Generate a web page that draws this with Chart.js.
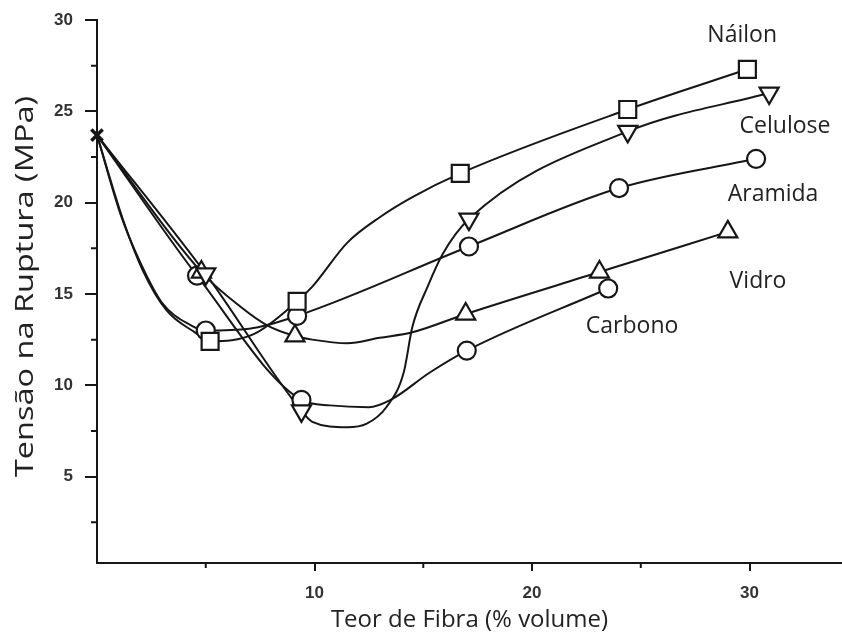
<!DOCTYPE html>
<html lang="pt">
<head>
<meta charset="utf-8">
<title>Tensão na Ruptura x Teor de Fibra</title>
<script src="https://cdn.jsdelivr.net/npm/chart.js@4.4.1/dist/chart.umd.min.js"></script>
<style>
    html, body { margin: 0; padding: 0; background: #fff; }
    #wrap { width: 842px; height: 639px; }
</style>
</head>
<body>
<div id="wrap"><canvas id="fibraChart" width="842" height="639"></canvas></div>
<script>
// matriz sem fibra (ponto de partida de todas as curvas)
const matrizX = [0];
const matrizY = [23.7];

// pontos medidos de cada fibra
const nailonX = [5.2, 9.2, 16.7, 24.4, 29.9];
const nailonY = [12.4, 14.6, 21.6, 25.1, 27.3];
const celuloseX = [5.0, 9.4, 17.1, 24.4, 30.9];
const celuloseY = [16.1, 8.6, 19.1, 23.9, 26.0];
const aramidaX = [5.0, 9.2, 17.1, 24.0, 30.3];
const aramidaY = [13.0, 13.8, 17.6, 20.8, 22.4];
const vidroX = [4.8, 9.1, 16.95, 23.1, 29.0];
const vidroY = [16.2, 12.7, 13.9, 16.2, 18.4];
const carbonoX = [4.6, 9.4, 17.0, 23.5];
const carbonoY = [16.0, 9.2, 11.9, 15.3];

// traçado das curvas ajustadas (passam pelos pontos medidos)
const nailonCurvaX = [0, 1.2, 2.1, 3.2, 4.5, 5.2, 7.2, 9.2, 9.9, 11.5, 13.0, 14.5, 16.7, 24.4, 29.9];
const nailonCurvaY = [23.7, 19.05, 16.3, 14.1, 12.9, 12.4, 12.8, 14.6, 15.4, 17.8, 19.2, 20.3, 21.6, 25.1, 27.3];
const celuloseCurvaX = [0, 5.0, 9.4, 9.9, 11.5, 12.4, 13.3, 14.1, 14.5, 15.2, 15.9, 17.1, 24.4, 30.9];
const celuloseCurvaY = [23.7, 16.1, 8.6, 8.0, 7.7, 7.9, 8.8, 10.7, 13.2, 15.4, 17.2, 19.1, 23.9, 26.0];
const aramidaCurvaX = [0, 1.1, 2.0, 3.0, 4.3, 5.0, 7.0, 9.2, 17.1, 24.0, 30.3];
const aramidaCurvaY = [23.7, 19.3, 16.7, 14.5, 13.3, 13.0, 13.1, 13.8, 17.6, 20.8, 22.4];
const vidroCurvaX = [0, 4.8, 6.6, 7.8, 9.1, 9.9, 11.5, 13.0, 14.5, 16.95, 23.1, 29.0];
const vidroCurvaY = [23.7, 16.2, 14.3, 13.3, 12.7, 12.5, 12.3, 12.6, 12.9, 13.9, 16.2, 18.4];
const carbonoCurvaX = [0, 4.6, 9.4, 10.7, 12.5, 13.5, 15.3, 17.0, 23.5];
const carbonoCurvaY = [23.7, 16.0, 9.2, 8.9, 8.8, 9.2, 10.7, 11.9, 15.3];

// eixos
const xMajorTicks = [10, 20, 30];
const xMinorTicks = [5, 15, 25];
const yMajorTicks = [5, 10, 15, 20, 25, 30];
const yMinorTicks = [2.5, 7.5, 12.5, 17.5, 22.5, 27.5];

// nomes das fibras junto das curvas
const curveLabels = [
    { text: 'Náilon', x: 29.66, y: 28.79 },
    { text: 'Celulose', x: 31.63, y: 23.81 },
    { text: 'Aramida', x: 31.08, y: 20.09 },
    { text: 'Vidro', x: 30.39, y: 15.32 },
    { text: 'Carbono', x: 24.6, y: 12.86 }
];

const INK = '#161616';

function toPoints(xs, ys) {
    return xs.map((x, i) => ({ x: x, y: ys[i] }));
}

function curveDataset(xs, ys) {
    return {
        data: toPoints(xs, ys),
        showLine: true,
        borderColor: INK,
        borderWidth: 2,
        pointRadius: 0,
        cubicInterpolationMode: 'monotone',
        fill: false,
        clip: false,
        order: 2
    };
}

function markerDataset(xs, ys, style, radius, rotation) {
    return {
        data: toPoints(xs, ys),
        showLine: false,
        pointStyle: style,
        pointRadius: radius,
        pointRotation: rotation || 0,
        pointBorderWidth: 2.2,
        pointBorderColor: INK,
        pointBackgroundColor: '#fff',
        clip: false,
        order: 1
    };
}

// ticks secundários, nomes das curvas e título do eixo vertical
const fibraDecor = {
    id: 'fibraDecor',
    afterDraw(chart) {
        const ctx = chart.ctx;
        const x = chart.scales.x;
        const y = chart.scales.y;
        ctx.save();
        ctx.strokeStyle = INK;
        ctx.lineWidth = 2;
        ctx.beginPath();
        yMinorTicks.forEach(v => {
            const py = y.getPixelForValue(v);
            ctx.moveTo(x.left - 6, py);
            ctx.lineTo(x.left, py);
        });
        xMinorTicks.forEach(v => {
            const px = x.getPixelForValue(v);
            ctx.moveTo(px, y.bottom);
            ctx.lineTo(px, y.bottom + 5);
        });
        ctx.stroke();

        ctx.fillStyle = '#222';
        ctx.font = '23px "Open Sans"';
        ctx.textAlign = 'center';
        ctx.textBaseline = 'alphabetic';
        curveLabels.forEach(l => {
            ctx.fillText(l.text, x.getPixelForValue(l.x), y.getPixelForValue(l.y));
        });

        // título vertical, um pouco alongado
        ctx.translate(33, (y.top + y.bottom) / 2 - 5);
        ctx.rotate(-Math.PI / 2);
        ctx.scale(1.3, 1);
        ctx.font = '25px "Open Sans"';
        ctx.fillText('Tensão na Ruptura (MPa)', 0, 0);
        ctx.restore();
    }
};

const tickFont = { family: '"Liberation Sans", Arial, sans-serif', size: 17, weight: 'bold' };

new Chart(document.getElementById('fibraChart'), {
    type: 'scatter',
    data: {
        datasets: [
            curveDataset(nailonCurvaX, nailonCurvaY),
            curveDataset(celuloseCurvaX, celuloseCurvaY),
            curveDataset(aramidaCurvaX, aramidaCurvaY),
            curveDataset(vidroCurvaX, vidroCurvaY),
            curveDataset(carbonoCurvaX, carbonoCurvaY),
            markerDataset(nailonX, nailonY, 'rect', 12),
            markerDataset(celuloseX, celuloseY, 'triangle', 11, 180),
            markerDataset(aramidaX, aramidaY, 'circle', 9),
            markerDataset(vidroX, vidroY, 'triangle', 11),
            markerDataset(carbonoX, carbonoY, 'circle', 9),
            Object.assign(markerDataset(matrizX, matrizY, 'crossRot', 8), { pointBorderWidth: 3.5, order: 0 })
        ]
    },
    options: {
        responsive: false,
        animation: false,
        devicePixelRatio: 1,
        layout: { autoPadding: false, padding: { top: 20, right: 0, bottom: 0, left: 0 } },
        plugins: {
            legend: { display: false },
            tooltip: { enabled: false }
        },
        scales: {
            x: {
                type: 'linear',
                min: 0,
                max: 34.25,
                afterBuildTicks: scale => { scale.ticks = xMajorTicks.map(v => ({ value: v })); },
                afterFit: scale => {
                    scale.height = 76;
                    scale.paddingLeft = 0;
                    scale.paddingRight = 0;
                },
                grid: { drawOnChartArea: false, drawTicks: true, tickLength: 8, color: INK, lineWidth: 2 },
                border: { display: true, color: INK, width: 2 },
                ticks: { font: tickFont, color: '#333', padding: 12, maxRotation: 0, autoSkip: false },
                title: {
                    display: true,
                    text: 'Teor de Fibra (% volume)',
                    font: { family: '"Open Sans"', size: 24 },
                    color: '#222',
                    padding: { top: 0, bottom: 4 }
                }
            },
            y: {
                type: 'linear',
                min: 0.27,
                max: 30,
                afterBuildTicks: scale => { scale.ticks = yMajorTicks.map(v => ({ value: v })); },
                afterFit: scale => {
                    scale.width = 97;
                    scale.paddingTop = 0;
                    scale.paddingBottom = 0;
                },
                grid: { drawOnChartArea: false, drawTicks: true, tickLength: 12, color: INK, lineWidth: 2 },
                border: { display: true, color: INK, width: 2 },
                ticks: { font: tickFont, color: '#333', padding: 12, autoSkip: false }
            }
        }
    },
    plugins: [fibraDecor]
});
</script>
</body>
</html>
